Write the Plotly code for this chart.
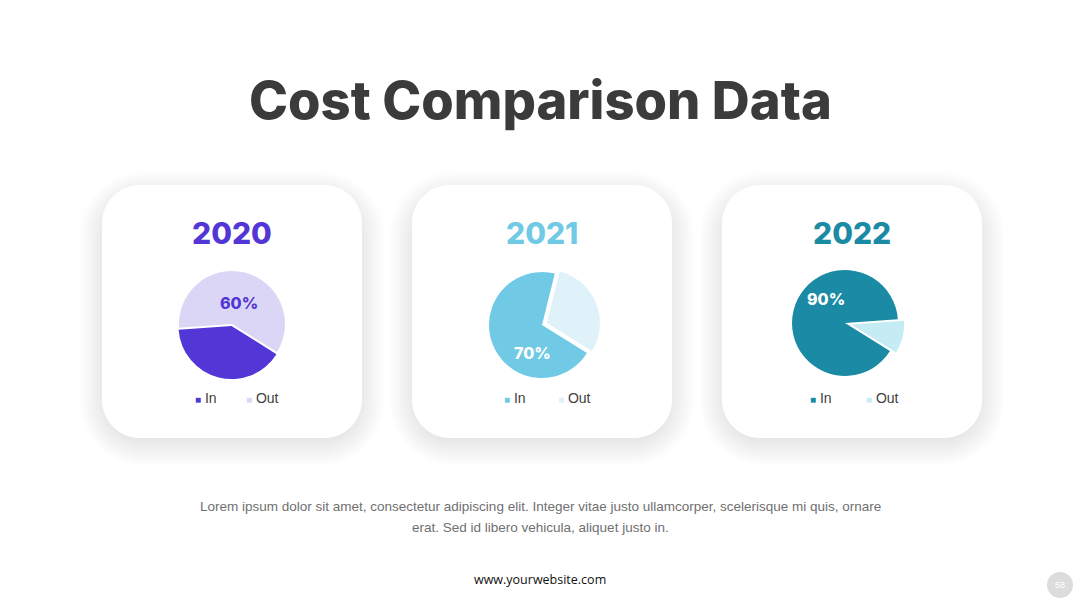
import math
import plotly.graph_objects as go

W, H = 1080, 608

# ---- data ----
years = ["2020", "2021", "2022"]
slice_labels = ["In", "Out"]
in_values = [40, 70, 90]
out_values = [60, 30, 10]

# ---- styles / layout ----
in_colors = ["#5236D6", "#70CAE6", "#1A8AA5"]
out_colors = ["#DCD6F6", "#E0F2F9", "#C5ECF5"]
text_slice = [1, 0, 0]
text_colors = ["#5236D6", "#FFFFFF", "#FFFFFF"]
text_angle = [18, 198, 322]      # label direction (deg clockwise from 12 o'clock)
text_radius = [0.42, 0.55, 0.58]  # fraction of radius
pulls = [[0.04, 0], [0, 0.1], [0, 0.12]]
card_left = [102, 412, 722]
card_w, card_top, card_bottom, card_rad = 260, 185, 438, 38
pie_cx = [232, 542, 845]
pie_cy = [324, 325, 323]
pie_r = 53
legend_x = [[193, 244], [502, 556], [808, 864]]
TITLE_FONT = "Inter"
BODY_FONT = "Liberation Sans"


def X(px):
    return px / W


def Y(py):
    return 1 - py / H


def rrect(x0, y0, x1, y1, r):
    k = 0.45
    pts = [
        f"M{X(x0 + r)},{Y(y0)}",
        f"L{X(x1 - r)},{Y(y0)}",
        f"C{X(x1 - r * k)},{Y(y0)} {X(x1)},{Y(y0 + r * k)} {X(x1)},{Y(y0 + r)}",
        f"L{X(x1)},{Y(y1 - r)}",
        f"C{X(x1)},{Y(y1 - r * k)} {X(x1 - r * k)},{Y(y1)} {X(x1 - r)},{Y(y1)}",
        f"L{X(x0 + r)},{Y(y1)}",
        f"C{X(x0 + r * k)},{Y(y1)} {X(x0)},{Y(y1 - r * k)} {X(x0)},{Y(y1 - r)}",
        f"L{X(x0)},{Y(y0 + r)}",
        f"C{X(x0)},{Y(y0 + r * k)} {X(x0 + r * k)},{Y(y0)} {X(x0 + r)},{Y(y0)}",
        "Z",
    ]
    return " ".join(pts)


fig = go.Figure()
shapes = []
annotations = []

for i in range(3):
    x0 = card_left[i]
    x1 = x0 + card_w
    # soft shadow
    for s in range(12):
        g = 1 + s * 2.2
        shapes.append(dict(
            type="path", xref="paper", yref="paper", layer="below",
            path=rrect(x0 - g + 3, card_top - g + 12, x1 + g - 3, card_bottom + g + 2, card_rad + g),
            fillcolor="rgba(0,0,0,0.0085)", line=dict(width=0),
        ))
    shapes.append(dict(
        type="path", xref="paper", yref="paper", layer="below",
        path=rrect(x0, card_top, x1, card_bottom, card_rad),
        fillcolor="#FFFFFF", line=dict(width=0),
    ))

    maxpull = max(pulls[i])
    R = pie_r * (1 + maxpull)
    vals = [in_values[i], out_values[i]]
    fig.add_trace(go.Pie(
        labels=slice_labels,
        values=vals,
        sort=False,
        direction="clockwise",
        rotation=122,
        pull=pulls[i],
        marker=dict(colors=[in_colors[i], out_colors[i]], line=dict(width=0)),
        textinfo="none",
        showlegend=False,
        hoverinfo="label+percent",
        domain=dict(
            x=[X(pie_cx[i] - R), X(pie_cx[i] + R)],
            y=[Y(pie_cy[i] + R), Y(pie_cy[i] - R)],
        ),
    ))

    # percentage label
    pct = round(100 * vals[text_slice[i]] / sum(vals))
    a = math.radians(text_angle[i])
    tx = pie_cx[i] + math.sin(a) * text_radius[i] * pie_r
    ty = pie_cy[i] - math.cos(a) * text_radius[i] * pie_r
    annotations.append(dict(
        text=f"{pct}%", x=X(tx), y=Y(ty), xref="paper", yref="paper",
        showarrow=False, xanchor="center", yanchor="middle",
        font=dict(family=TITLE_FONT, size=16, color=text_colors[i], weight=800),
    ))

    annotations.append(dict(
        text=years[i], x=X(x0 + card_w / 2), y=Y(233), xref="paper", yref="paper",
        showarrow=False, xanchor="center", yanchor="middle",
        font=dict(family=TITLE_FONT, size=30, color=in_colors[i], weight=800),
    ))
    cols = [in_colors[i], out_colors[i]]
    for j in range(2):
        annotations.append(dict(
            text=f"<span style='font-size:10px;color:{cols[j]}'>■</span> {slice_labels[j]}",
            x=X(legend_x[i][j]), y=Y(398), xref="paper", yref="paper",
            showarrow=False, xanchor="left", yanchor="middle",
            font=dict(family=BODY_FONT, size=14, color="#404040"),
        ))

annotations.append(dict(
    text="Cost Comparison Data", x=0.5, y=Y(100), xref="paper", yref="paper",
    showarrow=False, xanchor="center", yanchor="middle",
    font=dict(family=TITLE_FONT, size=52.5, color="#3B3B3B", weight=800),
))
body_lines = [
    "Lorem ipsum dolor sit amet, consectetur adipiscing elit. Integer vitae justo ullamcorper, scelerisque mi quis, ornare",
    "erat. Sed id libero vehicula, aliquet justo in.",
]
for k, line in enumerate(body_lines):
    annotations.append(dict(
        text=line, x=0.5, y=Y(506 + 21 * k), xref="paper", yref="paper",
        showarrow=False, xanchor="center", yanchor="middle",
        font=dict(family=BODY_FONT, size=13.5, color="#707070"),
    ))
annotations.append(dict(
    text="www.yourwebsite.com", x=0.5, y=Y(579), xref="paper", yref="paper",
    showarrow=False, xanchor="center", yanchor="middle",
    font=dict(family="Open Sans", size=12.5, color="#111111"),
))
shapes.append(dict(
    type="circle", xref="paper", yref="paper", layer="below",
    x0=X(1047), x1=X(1073), y0=Y(598), y1=Y(572),
    fillcolor="#DCDCDC", line=dict(width=0),
))
annotations.append(dict(
    text="58", x=X(1060), y=Y(585), xref="paper", yref="paper",
    showarrow=False, xanchor="center", yanchor="middle",
    font=dict(family=BODY_FONT, size=9, color="#FFFFFF"),
))

fig.update_layout(
    width=W, height=H,
    margin=dict(l=0, r=0, t=0, b=0),
    paper_bgcolor="#FFFFFF", plot_bgcolor="#FFFFFF",
    shapes=shapes, annotations=annotations,
    showlegend=False,
)
fig.write_html("out.html", config={"displayModeBar": False})
